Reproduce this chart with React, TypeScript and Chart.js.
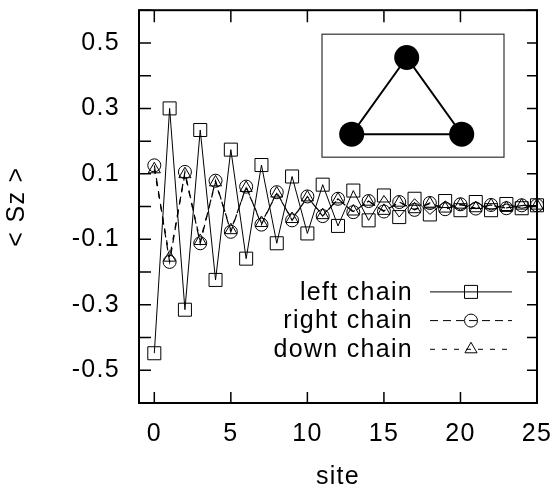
import React, { useEffect, useRef } from 'react';
import { Chart, registerables } from 'chart.js';

Chart.register(...registerables);

const sites = [0, 1, 2, 3, 4, 5, 6, 7, 8, 9, 10, 11, 12, 13, 14, 15, 16, 17, 18, 19, 20, 21, 22, 23, 24, 25];
const leftChain = [-0.448, 0.300, -0.315, 0.234, -0.224, 0.174, -0.159, 0.127, -0.112, 0.092, -0.082, 0.067, -0.059, 0.049, -0.042, 0.034, -0.032, 0.024, -0.024, 0.017, -0.011, 0.014, -0.011, 0.008, -0.005, 0.004];
const rightChain = [0.126, -0.169, 0.106, -0.112, 0.079, -0.077, 0.061, -0.055, 0.044, -0.042, 0.031, -0.029, 0.024, -0.017, 0.017, -0.015, 0.014, -0.010, 0.011, -0.008, 0.007, -0.006, 0.005, -0.005, 0.004, 0.004];
const downChain = [0.114, -0.156, 0.099, -0.105, 0.074, -0.072, 0.057, -0.050, 0.040, -0.038, 0.028, -0.026, 0.022, -0.015, 0.015, -0.013, 0.012, -0.008, 0.009, -0.006, 0.006, -0.005, 0.004, -0.004, 0.003, 0.003];
const seriesLabels = ['left chain', 'right chain', 'down chain'];
const xTitle = 'site';
const yTitle = '< Sz >';

const FONT = '"Liberation Sans", Arial, sans-serif';
const FS = 25;
const SPACING = '1.3px';

function drawMarker(ctx: CanvasRenderingContext2D, style: string, x: number, y: number) {
  ctx.beginPath();
  if (style === 'rect') {
    ctx.rect(x - 6.5, y - 6.5, 13, 13);
  } else if (style === 'circle') {
    ctx.arc(x, y, 6.5, 0, Math.PI * 2);
  } else {
    const r = 7;
    ctx.moveTo(x, y - r);
    ctx.lineTo(x + r * Math.sin(Math.PI / 3), y + r / 2);
    ctx.lineTo(x - r * Math.sin(Math.PI / 3), y + r / 2);
    ctx.closePath();
  }
  ctx.stroke();
}

const spacingPlugin = {
  id: 'letterSpacing',
  beforeLayout(chart: any) {
    (chart.ctx as any).letterSpacing = SPACING;
  },
  beforeDraw(chart: any) {
    (chart.ctx as any).letterSpacing = SPACING;
  },
};

const framePlugin = {
  id: 'frameInsetLegend',
  afterDraw(chart: any) {
    const { ctx, chartArea, scales } = chart;
    const { left, right, top, bottom } = chartArea;
    const xs = scales.x;
    const ys = scales.y;
    ctx.save();
    ctx.strokeStyle = '#000';
    ctx.setLineDash([]);
    // inward ticks on all four sides
    ctx.lineWidth = 1.5;
    ctx.beginPath();
    xs.ticks.forEach((t: any) => {
      const px = xs.getPixelForValue(t.value);
      ctx.moveTo(px, bottom);
      ctx.lineTo(px, bottom - 11);
      ctx.moveTo(px, top);
      ctx.lineTo(px, top + 12);
    });
    ys.ticks.forEach((t: any) => {
      const py = ys.getPixelForValue(t.value);
      ctx.moveTo(left, py);
      ctx.lineTo(left + 12, py);
      ctx.moveTo(right, py);
      ctx.lineTo(right - 10, py);
    });
    ctx.stroke();
    ctx.lineWidth = 2;
    ctx.strokeRect(left, top, right - left, bottom - top);

    // inset: triangle graph
    const bx0 = right - 215, bx1 = right - 33, by0 = top + 24, by1 = top + 147;
    ctx.lineWidth = 1.2;
    ctx.strokeStyle = '#333';
    ctx.strokeRect(bx0, by0, bx1 - bx0, by1 - by0);
    const nodes = [
      [right - 130.3, top + 47.3],
      [right - 185.3, top + 124],
      [right - 75.3, top + 124],
    ];
    ctx.strokeStyle = '#000';
    ctx.lineWidth = 2;
    ctx.beginPath();
    ctx.moveTo(nodes[0][0], nodes[0][1]);
    ctx.lineTo(nodes[1][0], nodes[1][1]);
    ctx.lineTo(nodes[2][0], nodes[2][1]);
    ctx.closePath();
    ctx.stroke();
    ctx.fillStyle = '#000';
    nodes.forEach(([nx, ny]) => {
      ctx.beginPath();
      ctx.arc(nx, ny, 12.5, 0, Math.PI * 2);
      ctx.fill();
    });

    // legend
    ctx.font = `${FS}px ${FONT}`;
    ctx.textAlign = 'right';
    ctx.textBaseline = 'middle';
    chart.data.datasets.forEach((ds: any, i: number) => {
      const yy = top + 281.7 + i * 28.7;
      ctx.fillStyle = '#000';
      ctx.fillText(ds.label, right - 124, yy + 1);
      ctx.strokeStyle = '#000';
      ctx.lineWidth = 1;
      ctx.setLineDash(ds.borderDash || []);
      ctx.beginPath();
      ctx.moveTo(right - 107, yy);
      ctx.lineTo(right - 25, yy);
      ctx.stroke();
      ctx.setLineDash([]);
      drawMarker(ctx, ds.pointStyle, right - 66, yy);
    });
    ctx.restore();
  },
};

const zeroPad = (scale: any) => {
  scale.paddingTop = 0;
  scale.paddingBottom = 0;
  scale.paddingLeft = 0;
  scale.paddingRight = 0;
};

export default function App() {
  const canvasRef = useRef<HTMLCanvasElement | null>(null);

  useEffect(() => {
    if (!canvasRef.current) return;
    const mk = (arr: number[]) => sites.map((s, i) => ({ x: s, y: arr[i] }));
    const chart = new Chart(canvasRef.current, {
      type: 'scatter',
      data: {
        datasets: [
          {
            label: seriesLabels[0],
            data: mk(leftChain),
            showLine: true,
            borderColor: '#000',
            borderWidth: 1,
            pointStyle: 'rect',
            pointRadius: 9.2,
            pointBorderWidth: 1,
            pointBorderColor: '#000',
            pointBackgroundColor: 'rgba(0,0,0,0)',
            clip: false,
          } as any,
          {
            label: seriesLabels[1],
            data: mk(rightChain),
            showLine: true,
            borderColor: '#000',
            borderWidth: 1.2,
            borderDash: [8, 5],
            pointStyle: 'circle',
            pointRadius: 6.5,
            pointBorderWidth: 1,
            pointBorderColor: '#000',
            pointBackgroundColor: 'rgba(0,0,0,0)',
            clip: false,
          } as any,
          {
            label: seriesLabels[2],
            data: mk(downChain),
            showLine: true,
            borderColor: '#000',
            borderWidth: 1.2,
            borderDash: [5, 7],
            pointStyle: 'triangle',
            pointRadius: 7,
            pointBorderWidth: 1,
            pointBorderColor: '#000',
            pointBackgroundColor: 'rgba(0,0,0,0)',
            clip: false,
          } as any,
        ],
      },
      options: {
        animation: false,
        responsive: true,
        maintainAspectRatio: false,
        layout: { padding: { top: 6, right: 20, left: 0, bottom: 0 } },
        plugins: {
          legend: { display: false },
          tooltip: { enabled: false },
        },
        scales: {
          x: {
            type: 'linear',
            min: -1,
            max: 25,
            grid: { display: false, drawTicks: false },
            border: { display: false },
            ticks: {
              stepSize: 5,
              includeBounds: false,
              autoSkip: false,
              maxRotation: 0,
              padding: 16,
              color: '#000',
              font: { family: FONT, size: FS },
              callback: (v: any) => String(v),
            },
            title: {
              display: true,
              text: xTitle,
              color: '#000',
              font: { family: FONT, size: FS, lineHeight: 1 },
              padding: { top: 0, bottom: -3 },
            },
            afterFit: (scale: any) => {
              scale.height = 84;
              zeroPad(scale);
            },
          },
          y: {
            type: 'linear',
            min: -0.6,
            max: 0.6,
            grid: { display: false, drawTicks: false },
            border: { display: false },
            ticks: {
              stepSize: 0.1,
              count: 13,
              maxTicksLimit: 20,
              autoSkip: false,
              includeBounds: false,
              padding: 19,
              color: '#000',
              font: { family: FONT, size: FS, lineHeight: 1 },
              callback: (v: any) => {
                const k = Math.round(Number(v) * 10);
                return Math.abs(k) % 2 === 1 ? (k / 10).toFixed(1) : '';
              },
            },
            title: {
              display: true,
              text: yTitle,
              color: '#000',
              font: { family: FONT, size: FS, lineHeight: 1 },
              padding: { top: 5, bottom: 0 },
            },
            afterFit: (scale: any) => {
              scale.width = 139;
              zeroPad(scale);
            },
          },
        },
      } as any,
      plugins: [spacingPlugin, framePlugin],
    });
    return () => chart.destroy();
  }, []);

  return (
    <div style={{ position: 'absolute', left: 0, top: 0, width: 557, height: 487, background: '#fff' }}>
      <canvas ref={canvasRef} />
    </div>
  );
}
